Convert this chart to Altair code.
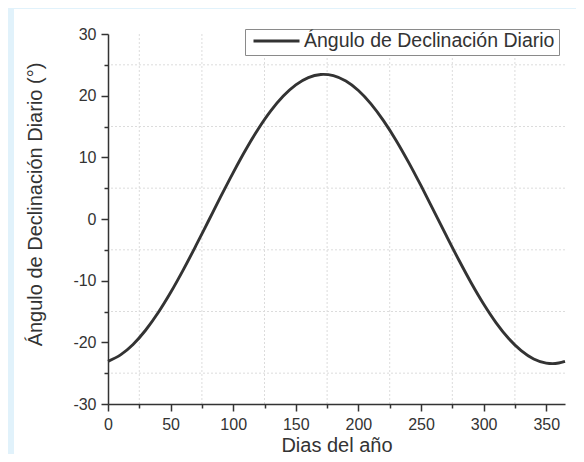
import altair as alt
import pandas as pd

days = [0, 10, 20, 30, 40, 50, 60, 70, 80, 90, 100, 110, 120, 130, 140, 150, 160, 170, 172,
        180, 190, 200, 210, 220, 230, 240, 250, 260, 270, 280, 290, 300, 310, 320, 330, 340,
        350, 355, 360, 365]
decl = [-23.09, -22.04, -20.35, -18.04, -15.21, -11.93, -8.29, -4.41, -0.41, 3.62, 7.53, 11.23,
        14.59, 17.52, 19.93, 21.75, 22.93, 23.43, 23.45, 23.24, 22.36, 20.83, 18.67, 15.96,
        12.79, 9.23, 5.40, 1.41, -2.62, -6.57, -10.33, -13.78, -16.83, -19.38, -21.35, -22.70,
        -23.37, -23.45, -23.35, -23.09]
series_name = "Ángulo de Declinación Diario"
x_ticks = list(range(0, 366, 25))
y_ticks = list(range(-30, 31, 5))
x_grid = [25, 75, 125, 175, 225, 275, 325]
y_grid = [-25, -15, -5, 5, 15, 25]

df = pd.DataFrame({"dia": days, "decl": decl, "serie": [series_name] * len(days)})
FONT = "Liberation Sans"
DARK = "#333333"

xscale = alt.Scale(domain=[0, 365], nice=False, zero=False)
yscale = alt.Scale(domain=[-30, 30], nice=False, zero=False)

xaxis = alt.Axis(
    values=x_ticks, title="Dias del año", titleFont=FONT, titleFontSize=20,
    titleFontWeight="normal", titleColor=DARK, titleY=47, titleBaseline="alphabetic",
    labelFont=FONT, labelFontSize=16, labelColor=DARK, labelPadding=5, labelFlush=False,
    labelExpr="datum.value % 50 === 0 ? toString(datum.value) : ''",
    domainColor=DARK, domainWidth=1.5, tickColor=DARK, tickWidth=1.5,
    tickSize={"condition": {"test": "datum.value % 50 === 0", "value": 7}, "value": 4},
    grid=False, zindex=1,
)
yaxis = alt.Axis(
    values=y_ticks, title="Ángulo de Declinación Diario (°)", titleFont=FONT,
    titleFontSize=20, titleFontWeight="normal", titleColor=DARK,
    titleX=-73, titleY=170, titleBaseline="middle", titleAlign="center", titleAngle=270,
    labelFont=FONT, labelFontSize=16, labelColor=DARK, labelPadding=5, labelFlush=False,
    labelExpr="datum.value % 10 === 0 ? toString(datum.value) : ''",
    domainColor=DARK, domainWidth=1.5, tickColor=DARK, tickWidth=1.5,
    tickSize={"condition": {"test": "datum.value % 10 === 0", "value": 7}, "value": 4},
    grid=False, zindex=1,
)

panel = alt.Chart(pd.DataFrame({"a": [0]})).mark_rect(color="white").encode(
    x=alt.value(-94), x2=alt.value(470), y=alt.value(-25), y2=alt.value(440)
)

grid_style = dict(color="#dcdcdc", strokeDash=[2, 2], strokeWidth=1)
vgrid = alt.Chart(pd.DataFrame({"dia": x_grid})).mark_rule(**grid_style).encode(
    x=alt.X("dia:Q", scale=xscale, axis=xaxis)
)
hgrid = alt.Chart(pd.DataFrame({"decl": y_grid})).mark_rule(**grid_style).encode(
    y=alt.Y("decl:Q", scale=yscale, axis=yaxis)
)

line = alt.Chart(df).mark_line(strokeWidth=2.9, interpolate="monotone").encode(
    x=alt.X("dia:Q", scale=xscale, axis=xaxis),
    y=alt.Y("decl:Q", scale=yscale, axis=yaxis),
    color=alt.Color("serie:N", scale=alt.Scale(range=[DARK]),
                    legend=alt.Legend(
                        title=None, orient="none", legendX=137, legendY=-5,
                        fillColor="white", strokeColor="#8a8a8a", padding=4, clipHeight=16,
                        symbolType="stroke", symbolSize=2116, symbolStrokeWidth=2.8,
                        symbolStrokeColor=DARK, symbolOffset=3, labelFont=FONT, labelFontSize=19.5,
                        labelColor=DARK, labelOffset=3, labelLimit=400,
                    )),
)

chart = alt.layer(panel, vgrid, hgrid, line).properties(
    width=457, height=370,
    autosize=alt.AutoSizeParams(type="none"),
    padding={"left": 100, "top": 26, "right": 11, "bottom": 50},
    background="#e1f2fb",
).configure_view(stroke=None)

chart.save("out.html", embed_options={"renderer": "svg", "actions": False})
